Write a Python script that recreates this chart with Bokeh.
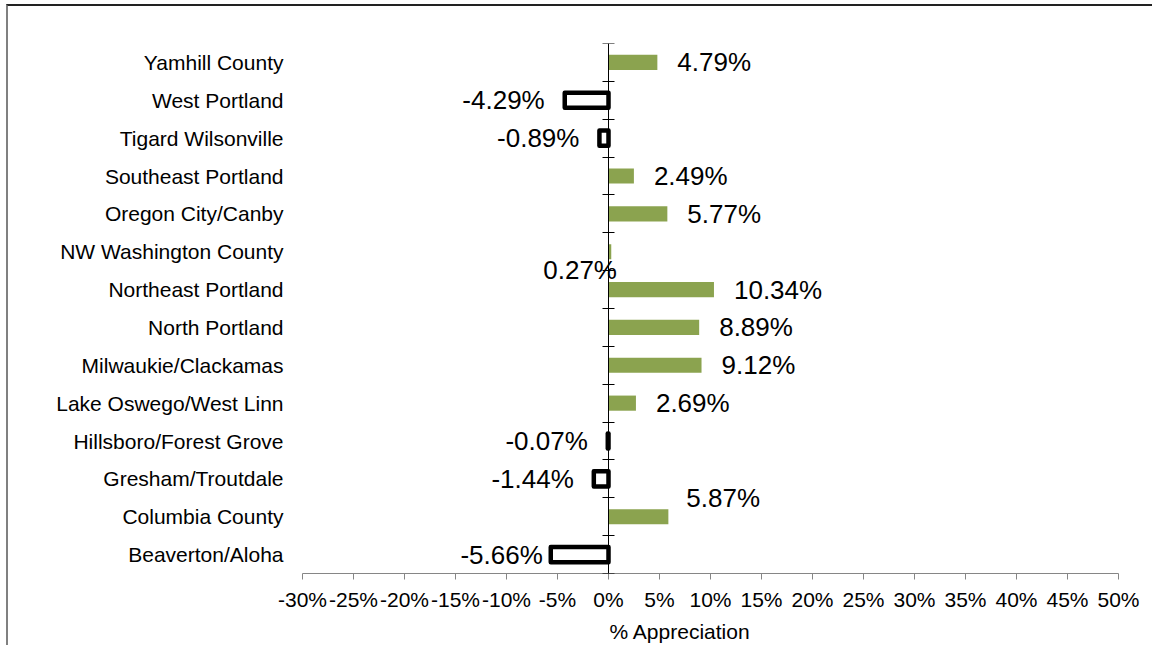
from bokeh.plotting import figure
from bokeh.models import (ColumnDataSource, Range1d, FixedTicker, LinearAxis,
                          PrintfTickFormatter, Title)
from bokeh.core.properties import value
from bokeh.embed import file_html
from bokeh.resources import INLINE

# ---- data (bottom to top) ----
regions = ["Beaverton/Aloha", "Columbia County", "Gresham/Troutdale",
           "Hillsboro/Forest Grove", "Lake Oswego/West Linn", "Milwaukie/Clackamas",
           "North Portland", "Northeast Portland", "NW Washington County",
           "Oregon City/Canby", "Southeast Portland", "Tigard Wilsonville",
           "West Portland", "Yamhill County"]
appreciation = [-5.66, 5.87, -1.44, -0.07, 2.69, 9.12, 8.89, 10.34, 0.27,
                5.77, 2.49, -0.89, -4.29, 4.79]
x_ticks = list(range(-30, 55, 5))
x_title = "%  Appreciation"

# label nudges in screen pixels (layout only)
nudge = {"NW Washington County": (-68, 18), "Columbia County": (18, -19),
         "Beaverton/Aloha": (-8, 0)}

FONT = "Liberation Sans"
GREEN = "#8BA34F"

n = len(regions)
ypos = [i + 0.5 for i in range(n)]

pos = dict(y=[], v=[])
neg = dict(y=[], v=[])
lab = dict(x=[], y=[], t=[], align=[], dx=[], dy=[])
for r, v, y in zip(regions, appreciation, ypos):
    d = pos if v >= 0 else neg
    d["y"].append(y); d["v"].append(v)
    dx, dy = nudge.get(r, (20 if v >= 0 else -20, 0))
    lab["x"].append(v); lab["y"].append(y); lab["t"].append(f"{v:.2f}%")
    lab["align"].append("left" if v >= 0 else "right")
    lab["dx"].append(dx); lab["dy"].append(dy)

p = figure(width=1146, height=641, output_backend="svg", toolbar_location=None,
           x_range=Range1d(x_ticks[0], x_ticks[-1]), y_range=Range1d(0, n),
           min_border_left=294, min_border_right=36, min_border_top=37,
           min_border_bottom=74)
p.outline_line_color = None
p.background_fill_color = "white"
p.border_fill_color = "white"
p.styles = {"border-left": "2px solid #808080", "border-top": "2px solid #222222",
            "position": "relative", "left": "6px", "top": "4px"}

p.hbar(y="y", left=0, right="v", height=0.4, source=ColumnDataSource(pos),
       fill_color=GREEN, line_color=None)
p.hbar(y="y", left=0, right="v", height=0.4, source=ColumnDataSource(neg),
       fill_color="white", line_color="black", line_width=4.5, line_join="round")

p.text(x="x", y="y", text="t", text_align="align", x_offset="dx", y_offset="dy",
       source=ColumnDataSource(lab), text_baseline="middle",
       text_font=value(FONT), text_font_size="26px", text_color="black")

# x axis
xa = p.xaxis[0]
xa.ticker = FixedTicker(ticks=x_ticks)
xa.formatter = PrintfTickFormatter(format="%d%%")
xa.axis_line_color = "#868686"
xa.major_tick_line_color = "#868686"
xa.major_tick_out = 6
xa.major_tick_in = 0
xa.minor_tick_line_color = None
xa.major_label_text_font = FONT
xa.major_label_text_font_size = "21px"
xa.major_label_text_color = "black"
xa.major_label_standoff = 8

# category axis (labels only)
ya = p.yaxis[0]
ya.ticker = FixedTicker(ticks=ypos)
ya.major_label_overrides = {y: r for y, r in zip(ypos, regions)}
ya.axis_line_color = None
ya.major_tick_line_color = None
ya.minor_tick_line_color = None
ya.major_tick_out = 0
ya.major_label_standoff = 19
ya.major_label_text_font = FONT
ya.major_label_text_font_size = "21px"
ya.major_label_text_color = "black"

# zero axis with band ticks
za = LinearAxis(fixed_location=0, ticker=FixedTicker(ticks=list(range(n + 1))))
za.axis_line_color = "black"
za.major_tick_line_color = "black"
za.major_tick_in = 6
za.major_tick_out = 6
za.minor_tick_line_color = None
za.major_label_text_color = None
za.major_label_text_font_size = "1px"
p.add_layout(za, "left")

p.grid.visible = False

p.add_layout(Title(text=x_title, align="left", offset=307, text_font=FONT,
                   text_font_size="21px", text_font_style="normal",
                   text_color="black", standoff=8), "below")

open("out.html", "w").write(file_html(p, INLINE))
